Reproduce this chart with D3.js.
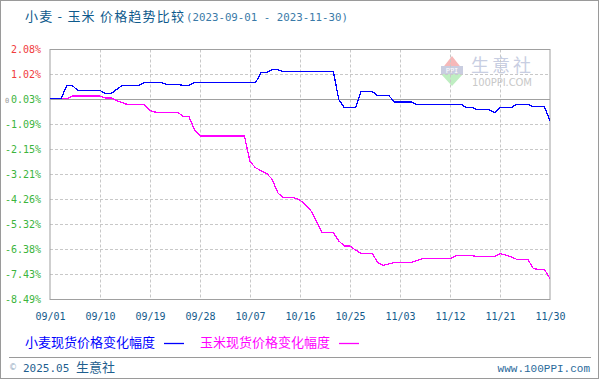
<!DOCTYPE html>
<html><head><meta charset="utf-8">
<script src="https://cdn.jsdelivr.net/npm/d3@7/dist/d3.min.js"></script>
<style>
html,body{margin:0;padding:0;background:#fff;}
svg{display:block;}
</style></head>
<body><svg id="c" width="600" height="380"></svg>
<script>
// ---- data ----
const titleMain = "小麦 - 玉米 价格趋势比较";
const titleRange = "(2023-09-01 - 2023-11-30)";
const seriesNames = ["小麦现货价格变化幅度", "玉米现货价格变化幅度"];
const seriesColors = ["#0000ff", "#ff00ff"];
const dateDomain = ["2023-09-01", "2023-11-30"];
const xTickDates = ["2023-09-01","2023-09-10","2023-09-19","2023-09-28","2023-10-07","2023-10-16","2023-10-25","2023-11-03","2023-11-12","2023-11-21","2023-11-30"];
const xTickLabels = ["09/01","09/10","09/19","09/28","10/07","10/16","10/25","11/03","11/12","11/21","11/30"];
const yTickValues = [2.08, 1.023, -0.034, -1.091, -2.148, -3.205, -4.262, -5.319, -6.376, -7.433, -8.49];
const yTickLabels = ["2.08%","1.02%","0.03%","-1.09%","-2.15%","-3.21%","-4.26%","-5.32%","-6.38%","-7.43%","-8.49%"];
const wheatDates = ["2023-09-01","2023-09-03","2023-09-04","2023-09-05","2023-09-06","2023-09-10","2023-09-11","2023-09-12","2023-09-14","2023-09-17",
  "2023-09-18","2023-09-21","2023-09-22","2023-09-24","2023-09-25","2023-09-26","2023-09-27","2023-10-08","2023-10-09","2023-10-10",
  "2023-10-11","2023-10-12","2023-10-13","2023-10-22","2023-10-23","2023-10-24","2023-10-26","2023-10-27","2023-10-29","2023-10-30",
  "2023-11-01","2023-11-02","2023-11-05","2023-11-06","2023-11-14","2023-11-15","2023-11-16","2023-11-17","2023-11-19","2023-11-20",
  "2023-11-21","2023-11-23","2023-11-24","2023-11-26","2023-11-27","2023-11-29","2023-11-30"];
const wheatValues = [0,0,0.56,0.56,0.35,0.35,0.22,0.22,0.56,0.56,
  0.68,0.68,0.60,0.60,0.56,0.56,0.68,0.68,1.10,1.10,
  1.23,1.23,1.14,1.14,-0.05,-0.38,-0.38,0.30,0.30,0.13,
  0.13,-0.14,-0.14,-0.24,-0.24,-0.38,-0.38,-0.47,-0.47,-0.59,
  -0.38,-0.38,-0.24,-0.24,-0.34,-0.34,-0.92];
const cornDates = ["2023-09-01","2023-09-04","2023-09-05","2023-09-10","2023-09-11","2023-09-12","2023-09-13","2023-09-14","2023-09-15","2023-09-18",
  "2023-09-19","2023-09-20","2023-09-24","2023-09-25","2023-09-26","2023-09-27","2023-09-28","2023-10-06","2023-10-07","2023-10-08",
  "2023-10-10","2023-10-11","2023-10-12","2023-10-13","2023-10-15","2023-10-16","2023-10-17","2023-10-18","2023-10-20","2023-10-22",
  "2023-10-23","2023-10-24","2023-10-25","2023-10-26","2023-10-27","2023-10-29","2023-10-30","2023-10-31","2023-11-01","2023-11-02",
  "2023-11-05","2023-11-06","2023-11-07","2023-11-12","2023-11-13","2023-11-16","2023-11-17","2023-11-20","2023-11-21","2023-11-22",
  "2023-11-23","2023-11-24","2023-11-26","2023-11-27","2023-11-28","2023-11-29","2023-11-30"];
const cornValues = [0,0,0.11,0.11,0.03,0.03,-0.08,-0.17,-0.25,-0.25,
  -0.50,-0.57,-0.57,-0.76,-0.76,-1.30,-1.58,-1.58,-2.66,-2.92,
  -3.16,-3.41,-3.98,-4.19,-4.19,-4.29,-4.48,-4.75,-5.66,-5.66,
  -6.02,-6.23,-6.23,-6.40,-6.54,-6.54,-6.93,-7.05,-6.98,-6.93,
  -6.93,-6.85,-6.77,-6.77,-6.64,-6.64,-6.68,-6.68,-6.55,-6.61,
  -6.68,-6.79,-6.79,-7.18,-7.22,-7.22,-7.61];

// ---- chart ----
const svg = d3.select("#c");
const m = {left: 50, right: 550, top: 49.5, bottom: 299.5};
const parse = d3.utcParse("%Y-%m-%d");
const x = d3.scaleUtc().domain(dateDomain.map(parse)).range([m.left, m.right]);
const y = d3.scaleLinear().domain([-8.49, 2.08]).range([m.bottom, m.top]);
const CJK = "'Noto Sans CJK SC', sans-serif";
const MONO = "'DejaVu Sans Mono', monospace";

// outer border
svg.append("rect").attr("x",0.5).attr("y",0.5).attr("width",598).attr("height",378)
  .attr("fill","#fff").attr("stroke","#9a9a9a");

// title
svg.append("text").attr("x",25).attr("y",21).attr("font-family",CJK).attr("font-size",13)
  .attr("fill","#0e5a8c").attr("textLength",159).attr("lengthAdjust","spacing").text(titleMain);
svg.append("text").attr("x",186).attr("y",21).attr("font-family",MONO).attr("font-size",11)
  .attr("fill","#3a7aa8").attr("textLength",162).attr("lengthAdjust","spacingAndGlyphs").text(titleRange);

// watermark
const wm = svg.append("g");
wm.append("path").attr("d","M441,70 L463,70 L452,56 Z").attr("fill","#f6b8b8");
wm.append("rect").attr("x",441).attr("y",66).attr("width",22).attr("height",8).attr("fill","#c9cde0");
wm.append("text").attr("x",452).attr("y",73).attr("text-anchor","middle").attr("font-family",MONO)
  .attr("font-size",7).attr("fill","#fff").text("PPI");
wm.append("path").attr("d","M441,74 L463,74 L452,86 Z").attr("fill","#bfeec2");
wm.append("text").attr("x",471).attr("y",72).attr("font-family",CJK).attr("font-size",18)
  .attr("fill","#c8cee2").attr("textLength",60).attr("lengthAdjust","spacing").text("生意社");
wm.append("text").attr("x",472).attr("y",86).attr("font-family","'DejaVu Sans', sans-serif").attr("font-size",10)
  .attr("fill","#c8c8c8").attr("textLength",60).text("100PPI.COM");

// grid
const grid = svg.append("g");
xTickDates.slice(1, -1).forEach(d => {
  const xx = Math.round(x(parse(d))) + 0.5;
  grid.append("line").attr("x1",xx).attr("x2",xx).attr("y1",m.top).attr("y2",m.bottom)
    .attr("stroke","#c8c8c8").attr("stroke-dasharray","3,2");
});
yTickValues.slice(1, -1).forEach(v => {
  const yy = Math.floor(y(v)) + 0.5;
  grid.append("line").attr("x1",m.left).attr("x2",m.right).attr("y1",yy).attr("y2",yy)
    .attr("stroke","#c8c8c8").attr("stroke-dasharray","3,2");
});
// zero baseline
const y0 = Math.floor(y(yTickValues[2])) + 0.5;
grid.append("line").attr("x1",m.left).attr("x2",m.right).attr("y1",y0).attr("y2",y0)
  .attr("stroke","#a0a0a0").attr("stroke-width",1.2);
// plot border
svg.append("rect").attr("x",m.left).attr("y",m.top).attr("width",m.right-m.left).attr("height",m.bottom-m.top)
  .attr("fill","none").attr("stroke","#a0a0a0");

// axes
const xAxis = d3.axisBottom(x).tickValues(xTickDates.map(parse)).tickSize(0)
  .tickFormat((d,i) => xTickLabels[i]);
const gx = svg.append("g").attr("transform",`translate(0,${m.bottom})`).call(xAxis);
gx.select(".domain").remove();
gx.selectAll("text").attr("font-family",MONO).attr("font-size",10).attr("fill","#145a8c").attr("dy","1.75em");

const yAxis = d3.axisLeft(y).tickValues(yTickValues).tickSize(0).tickFormat((d,i) => yTickLabels[i]);
const gy = svg.append("g").attr("transform",`translate(41,0)`).call(yAxis);
gy.select(".domain").remove();
gy.selectAll("text").attr("font-family",MONO).attr("font-size",10).attr("x",0)
  .attr("fill",(d) => d > 0 ? "#f03c3c" : "#3cb43c");
svg.append("text").attr("x",5).attr("y",y0+3).attr("font-family",MONO).attr("font-size",7)
  .attr("fill","#999").text("0");

// lines
const line = d3.line().x(d => x(d.date)).y(d => y(d.value));
const series = [
  {dates: wheatDates, values: wheatValues, color: seriesColors[0]},
  {dates: cornDates, values: cornValues, color: seriesColors[1]}
];
series.slice().reverse().forEach(s => {
  const data = s.dates.map((d,i) => ({date: parse(d), value: s.values[i]}));
  svg.append("path").datum(data).attr("d", line).attr("fill","none")
    .attr("stroke", s.color).attr("stroke-width",1.3).attr("shape-rendering","crispEdges");
});

// legend
const legX = [25, 200];
seriesNames.forEach((n,i) => {
  const tx = svg.append("text").attr("x",legX[i]).attr("y",347).attr("font-family",CJK).attr("font-size",13)
    .attr("fill",seriesColors[i]).text(n);
  const w = tx.node().getComputedTextLength();
  svg.append("line").attr("x1",legX[i]+w+9).attr("x2",legX[i]+w+29).attr("y1",343.5).attr("y2",343.5)
    .attr("stroke",seriesColors[i]).attr("stroke-width",1.3);
});

// footer
svg.append("line").attr("x1",9).attr("x2",591).attr("y1",357.5).attr("y2",357.5).attr("stroke","#9a9a9a");
svg.append("text").attr("x",9).attr("y",370).attr("font-family","'DejaVu Sans', sans-serif").attr("font-size",8)
  .attr("fill","#8fa8c0").text("©");
const ft = svg.append("text").attr("x",23).attr("y",372).attr("fill","#1f5f8f");
ft.append("tspan").attr("font-family",MONO).attr("font-size",11).text("2025.05 ");
ft.append("tspan").attr("font-family",CJK).attr("font-size",13).text("生意社");
svg.append("text").attr("x",590).attr("y",372).attr("text-anchor","end").attr("font-family","'Liberation Mono', monospace")
  .attr("font-size",11).attr("fill","#2a6a9a").text("www.100PPI.com");
</script></body></html>
